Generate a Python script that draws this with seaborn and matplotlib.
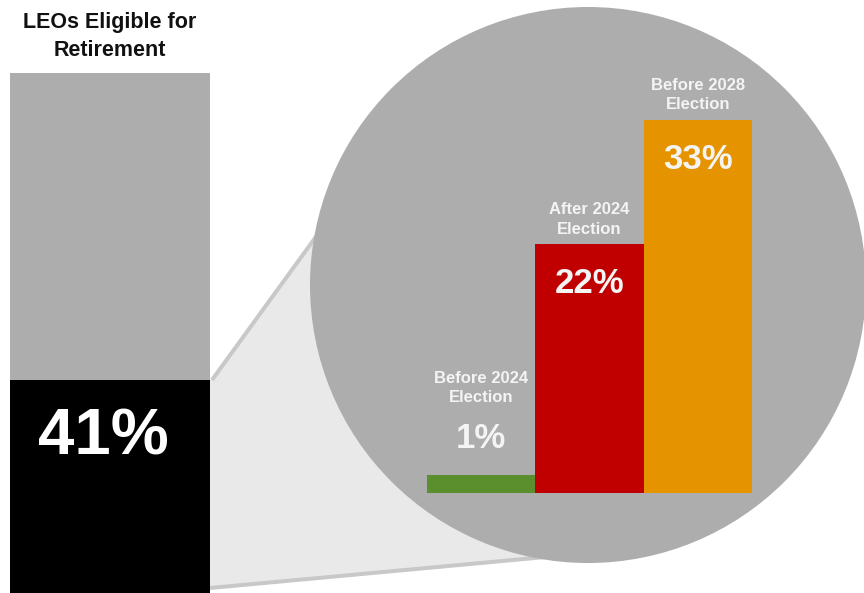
import matplotlib
matplotlib.use("Agg")
import matplotlib.pyplot as plt
from matplotlib.patches import Circle, Polygon
import seaborn as sns
import numpy as np

# ---------------- data ----------------
overall_label = ["LEOs"]
overall_total = [100]
overall_eligible = [41]
overall_title = "LEOs Eligible for\nRetirement"

phase_categories = ["Before 2024\nElection", "After 2024\nElection", "Before 2028\nElection"]
phase_values = [1, 22, 33]
phase_colors = ["#5b8f2d", "#c00000", "#e59400"]

# ---------------- style ----------------
sns.set_theme(style="white")
plt.rcParams["font.family"] = ["Liberation Sans", "DejaVu Sans"]

W, H, DPI = 864, 593, 100
GRAY = "#adadad"
LIGHT = "#e9e9e9"
LINE = "#c8c8c8"
TXT = "#f4f4f4"
PX2PT = 72 / DPI
MIN_VISIBLE = 1.6  # keeps the tiny bar visible, as in the infographic

fig = plt.figure(figsize=(W / DPI, H / DPI), dpi=DPI)


def rect(x0, y0, x1, y1):
    return [x0 / W, 1 - y1 / H, (x1 - x0) / W, (y1 - y0) / H]


# background decorations (magnifier circle and connector)
bg = fig.add_axes([0, 0, 1, 1], zorder=0)
bg.set_xlim(0, W)
bg.set_ylim(H, 0)
bg.axis("off")
cx, cy, r = 588, 285, 278
bg.add_patch(Polygon([(210, 380), (360, 176), (cx, cy), (600, 552), (210, 588)],
                     closed=True, facecolor=LIGHT, edgecolor="none", zorder=1))
bg.plot([212, 360], [380, 176], color=LINE, lw=4 * PX2PT, solid_capstyle="butt", zorder=2)
bg.plot([210, 600], [588, 552], color=LINE, lw=4 * PX2PT, solid_capstyle="butt", zorder=2)
bg.add_patch(Circle((cx, cy), r, facecolor=GRAY, edgecolor="none", zorder=3))

# left stacked bar
axl = fig.add_axes(rect(10, 73, 210, 593), zorder=2)
axl.patch.set_alpha(0)
sns.barplot(x=overall_label, y=overall_total, color=GRAY, width=1.0,
            saturation=1, linewidth=0, ax=axl)
sns.barplot(x=overall_label, y=overall_eligible, color="black", width=1.0,
            saturation=1, linewidth=0, ax=axl)
axl.set_xlim(-0.5, 0.5)
axl.set_ylim(0, 100)
axl.axis("off")
axl.annotate(f"{overall_eligible[0]}%", xy=(0, overall_eligible[0]),
             xytext=(-7 * PX2PT, -58 * PX2PT), textcoords="offset points",
             ha="center", va="center", color="white", fontsize=47, fontweight="bold")
axl.set_title(overall_title, fontsize=15.5, fontweight="bold", color="#111111",
              pad=12.5, linespacing=1.4)

# zoomed phase bars
axr = fig.add_axes(rect(427, 41, 752, 493), zorder=3)
axr.patch.set_alpha(0)
shown = np.maximum(phase_values, MIN_VISIBLE)
sns.barplot(x=phase_categories, y=shown, hue=phase_categories,
            palette=phase_colors, legend=False, width=1.0, saturation=1,
            linewidth=0, order=phase_categories, ax=axr)
axr.set_xlim(-0.5, len(phase_categories) - 0.5)
axr.set_ylim(0, 40)
axr.axis("off")

px_per_unit = 452 / 40
for i, (cat, v, h) in enumerate(zip(phase_categories, phase_values, shown)):
    inside = h * px_per_unit > 80
    if inside:
        cat_off, pct_off = 25, -39
    else:
        cat_off, pct_off = 87, 36
    axr.annotate(cat, xy=(i, h), xytext=(0, cat_off * PX2PT), textcoords="offset points",
                 ha="center", va="center", color=TXT, fontsize=12, fontweight="bold",
                 linespacing=1.4)
    axr.annotate(f"{v}%", xy=(i, h), xytext=(0, pct_off * PX2PT), textcoords="offset points",
                 ha="center", va="center", color=TXT, fontsize=25, fontweight="bold")

fig.savefig("out.png", dpi=DPI)
